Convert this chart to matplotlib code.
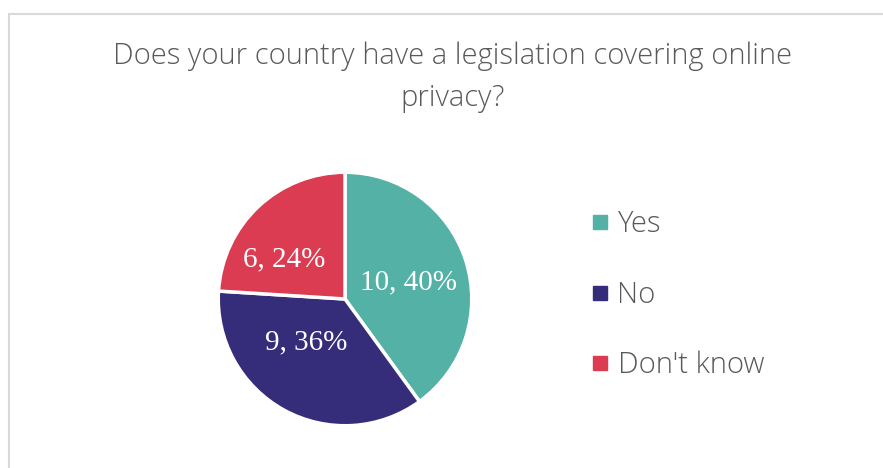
import numpy as np
import matplotlib
matplotlib.use('Agg')
import matplotlib.pyplot as plt
from matplotlib.lines import Line2D
from matplotlib.patches import Rectangle

# data
categories = ["Yes", "No", "Don't know"]
counts = [10, 9, 6]
colors = ["#53B1A6", "#352D79", "#DC3C51"]

total = float(sum(counts))

fig = plt.figure(figsize=(8.83, 4.68), dpi=100)

# outer chart frame (light grey, runs off the right / bottom edge)
fig.patches.append(Rectangle((9 / 883, -0.1), 1.0, (468 - 14) / 468 + 0.1,
                             transform=fig.transFigure, fill=False,
                             edgecolor="#D9D9D9", linewidth=1.5))

fig.text(453 / 883, 1 - 56 / 468,
         "Does your country have a legislation covering online",
         ha="center", va="center", fontsize=21, family="Open Sans",
         fontweight="light", color="#595959")
fig.text(453 / 883, 1 - 98 / 468, "privacy?",
         ha="center", va="center", fontsize=21, family="Open Sans",
         fontweight="light", color="#595959")

# pie axes: centre (345, 299) px, radius 128 px
cx, cy, r = 345, 299, 128
ax = fig.add_axes([(cx - r) / 883, (468 - cy - r) / 468, 2 * r / 883, 2 * r / 468])

def fmt(pct):
    n = int(round(pct * total / 100.0))
    return "{}, {:.0f}%".format(n, pct)

wedges, texts, autotexts = ax.pie(counts, colors=colors, startangle=90,
                                  counterclock=False, radius=1.0,
                                  autopct=fmt, pctdistance=0.55,
                                  wedgeprops=dict(edgecolor="white", linewidth=2.5))
# Excel-like label placement
label_pos = [(0.50, 0.13), (-0.31, -0.34), (-0.48, 0.31)]
for t, p in zip(autotexts, label_pos):
    t.set_position(p)
    t.set_color("white")
    t.set_fontsize(21)
    t.set_family("Liberation Serif")
    t.set_ha("center")
    t.set_va("center")
ax.set_xlim(-1.01, 1.01)
ax.set_ylim(-1.01, 1.01)

handles = [Line2D([0], [0], marker="s", linestyle="none", markersize=10,
                  markerfacecolor=c, markeredgecolor=c) for c in colors]
leg = fig.legend(handles, categories, loc="center left",
                 bbox_to_anchor=(565 / 883, 1 - 295 / 468), frameon=False,
                 prop=dict(family="Open Sans", size=21, weight="light"),
                 labelspacing=1.4, handlelength=0.6, handletextpad=0.3)
for t in leg.get_texts():
    t.set_color("#595959")

fig.savefig("out.png", dpi=100, facecolor="white")
